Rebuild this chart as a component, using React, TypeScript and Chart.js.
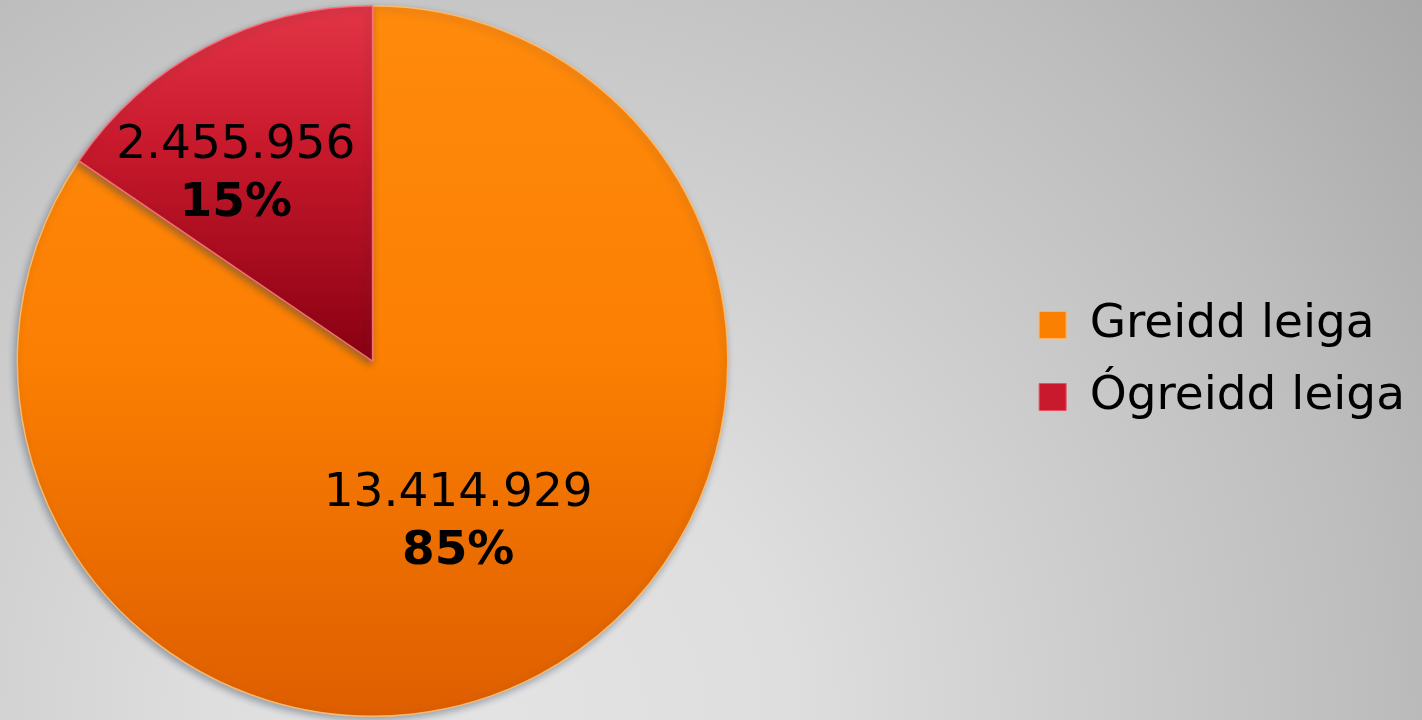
import React, { useEffect, useRef } from "react";
import { Chart, registerables } from "chart.js";

Chart.register(...registerables);

const categories = ["Greidd leiga", "Ógreidd leiga"];
const values = [13414929, 2455956];

const FONT = "'DejaVu Sans', Verdana, sans-serif";

function formatIs(n: number): string {
  return String(Math.round(n)).replace(/\B(?=(\d{3})+(?!\d))/g, ".");
}

// label placement inside each slice: fraction along the arc, fraction of radius
const labelPlacement = [
  { t: 0.5, f: 0.516 },
  { t: 0.348, f: 0.65 },
];

const sliceLabels = {
  id: "sliceLabels",
  afterDatasetsDraw(chart: any) {
    const ctx = chart.ctx;
    const meta = chart.getDatasetMeta(0);
    const data = chart.data.datasets[0].data as number[];
    const total = data.reduce((a, b) => a + b, 0);
    meta.data.forEach((arc: any, i: number) => {
      const { x, y, startAngle, endAngle, outerRadius } = arc.getProps(
        ["x", "y", "startAngle", "endAngle", "outerRadius"],
        true
      );
      const p = labelPlacement[i];
      const a = startAngle + (endAngle - startAngle) * p.t;
      const cx = x + Math.cos(a) * outerRadius * p.f;
      const cy = y + Math.sin(a) * outerRadius * p.f;
      ctx.save();
      ctx.fillStyle = "#000";
      ctx.textAlign = "center";
      ctx.textBaseline = "middle";
      ctx.font = `47px ${FONT}`;
      ctx.fillText(formatIs(data[i]), cx, cy - 29);
      ctx.font = `bold 47px ${FONT}`;
      ctx.fillText(Math.round((data[i] / total) * 100) + "%", cx, cy + 29);
      ctx.restore();
    });
  },
};

const shadowPlugin = {
  id: "pieShadow",
  beforeDatasetsDraw(chart: any) {
    const ctx = chart.ctx;
    ctx.save();
    ctx.shadowColor = "rgba(40,60,90,0.4)";
    ctx.shadowBlur = 7;
    ctx.shadowOffsetX = -2;
    ctx.shadowOffsetY = 3;
  },
  afterDatasetsDraw(chart: any) {
    chart.ctx.restore();
  },
};

function fillFor(index: number, chart: any) {
  const area = chart.chartArea;
  const ctx = chart.ctx;
  if (!area) return index === 0 ? "#ff8000" : "#c81528";
  if (index === 0) {
    const g = ctx.createLinearGradient(0, area.top, 0, area.bottom);
    g.addColorStop(0, "#ff8a0c");
    g.addColorStop(0.5, "#fb7f02");
    g.addColorStop(1, "#de5e00");
    return g;
  }
  const midY = (area.top + area.bottom) / 2;
  const g = ctx.createLinearGradient(0, area.top, 0, midY);
  g.addColorStop(0, "#e23546");
  g.addColorStop(0.4, "#c8192c");
  g.addColorStop(1, "#880012");
  return g;
}

export default function App() {
  const ref = useRef<HTMLCanvasElement | null>(null);
  useEffect(() => {
    document.body.style.margin = "0";
    const canvas = ref.current;
    if (!canvas) return;
    const chart = new Chart(canvas, {
      type: "pie",
      data: {
        labels: categories,
        datasets: [
          {
            data: values,
            backgroundColor: (c: any) => fillFor(c.dataIndex, c.chart),
            borderColor: ["rgba(255,190,110,0.9)", "rgba(255,110,120,0.9)"],
            borderWidth: 1.5,
          },
        ],
      },
      options: {
        responsive: true,
        maintainAspectRatio: false,
        animation: false,
        layout: { padding: { left: 0, right: 7, top: 5, bottom: 3 } },
        plugins: {
          tooltip: { enabled: false },
          legend: {
            position: "right",
            labels: {
              boxWidth: 27,
              boxHeight: 27,
              padding: 25,
              color: "#000",
              font: { family: FONT, size: 47 },
              generateLabels: () =>
                categories.map((t, i) => ({
                  text: t,
                  fillStyle: i === 0 ? "#f98000" : "#c81a2c",
                  strokeStyle: i === 0 ? "#ffb060" : "#e85060",
                  lineWidth: 1,
                  hidden: false,
                  index: i,
                  datasetIndex: 0,
                  fontColor: "#000",
                })),
            },
          },
        },
      },
      plugins: [shadowPlugin, sliceLabels],
    });
    return () => chart.destroy();
  }, []);
  return (
    <div
      style={{
        width: 1422,
        height: 720,
        position: "relative",
        overflow: "hidden",
        background:
          "radial-gradient(circle 1170px at 500px 720px, #e3e3e3 0%, #dedede 25%, #bdbdbd 75%, #a8a8a8 100%)",
      }}
    >
      <div style={{ position: "absolute", left: -269, top: 0, width: 1691, height: 720 }}>
        <canvas ref={ref} />
      </div>
    </div>
  );
}
